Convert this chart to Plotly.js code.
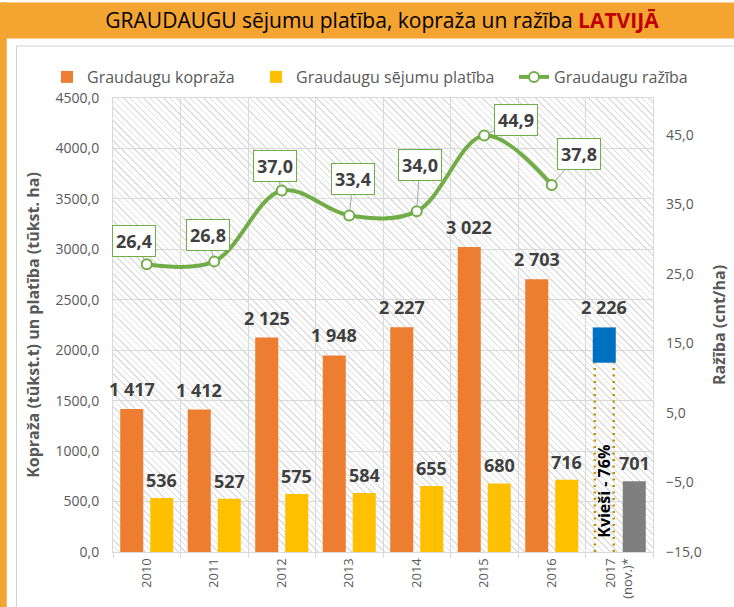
<!DOCTYPE html>
<html>
<head>
<meta charset="utf-8">
<script src="https://cdn.plot.ly/plotly-3.0.1.min.js"></script>
<style>
  html, body { margin: 0; padding: 0; background: #ffffff; }
  #wrap { position: relative; width: 734px; height: 607px; overflow: hidden; }
  #hatch {
    position: absolute; left: 113px; top: 98px; width: 540px; height: 454px;
    background: repeating-linear-gradient(45deg, #ffffff 0px, #ffffff 3.6px, #dedede 3.6px, #dedede 4.7px);
  }
  #chart { position: absolute; left: 0; top: 0; width: 734px; height: 607px; }
</style>
</head>
<body>
<div id="wrap">
  <div id="hatch"></div>
  <div id="chart"></div>
</div>
<script>
// ---- data ----
const years = ['2010', '2011', '2012', '2013', '2014', '2015', '2016', '2017<br>(nov.)*'];
const koprazaVals = [1417, 1412, 2125, 1948, 2227, 3022, 2703, 2226];   // tūkst. t
const platibaVals = [536, 527, 575, 584, 655, 680, 716, 701];           // tūkst. ha
const razibaYears = ['2010', '2011', '2012', '2013', '2014', '2015', '2016'];
const razibaVals = [26.4, 26.8, 37.0, 33.4, 34.0, 44.9, 37.8];         // cnt/ha
const kviesi2017 = 1876;        // wheat part of the 2017 bar (dotted)
const kviesiLabel = 'Kvieši - 76%';
const seriesNames = ['Graudaugu kopraža', 'Graudaugu sējumu platība', 'Graudaugu ražība'];

// ---- styles / layout helpers ----
const W = 734, H = 607;
const M = { l: 113, r: 81, t: 98, b: 55 };
const PW = W - M.l - M.r, PH = H - M.t - M.b;
const px = x => (x - M.l) / PW;          // pixel -> paper x
const py = y => (H - M.b - y) / PH;      // pixel -> paper y

const cOrange = '#ED7D31', cYellow = '#FFC000', cGreen = '#70AD47',
      cBlue = '#0070C0', cGray = '#7F7F7F', cText = '#404040', cAxis = '#595959';
const FONT = '"Open Sans", "Noto Sans", sans-serif';

const n = years.length;
const last = n - 1;
const barOff = 0.222;   // group offset of each bar from the category centre

const fmtThousands = v => String(v).replace(/\B(?=(\d{3})+(?!\d))/g, ' ');
const fmtDec = v => v.toFixed(1).replace('.', ',');

const koprazaColors = koprazaVals.map((v, i) => i === last ? 'rgba(0,0,0,0)' : cOrange);
const platibaColors = platibaVals.map((v, i) => i === last ? cGray : cYellow);

const traces = [
  {
    type: 'bar', name: seriesNames[0], x: years, y: koprazaVals, legend: 'legend',
    offsetgroup: 'a', marker: { color: koprazaColors }, hoverinfo: 'y'
  },
  {
    type: 'bar', name: seriesNames[1], x: years, y: platibaVals, legend: 'legend2',
    offsetgroup: 'b', marker: { color: platibaColors }, hoverinfo: 'y'
  },
  {
    type: 'bar', name: '2017', x: [years[last]], y: [koprazaVals[last] - kviesi2017],
    base: [kviesi2017], offsetgroup: 'a', marker: { color: cBlue },
    showlegend: false, hoverinfo: 'skip'
  },
  {
    type: 'scatter', mode: 'lines+markers', name: seriesNames[2], legend: 'legend3',
    x: razibaYears, y: razibaVals, yaxis: 'y2',
    line: { color: cGreen, width: 4, shape: 'spline', smoothing: 1 },
    marker: { symbol: 'circle', size: 10, color: '#ffffff', line: { color: cGreen, width: 2 } }
  }
];

// label annotations
const annotations = [];
koprazaVals.forEach((v, i) => {
  annotations.push({
    xref: 'x', yref: 'y', x: i - barOff, y: v, yanchor: 'bottom', yshift: 6,
    text: fmtThousands(v), showarrow: false,
    font: { family: FONT, size: 18, color: cText, weight: 'bold' }
  });
});
platibaVals.forEach((v, i) => {
  annotations.push({
    xref: 'x', yref: 'y', x: i + barOff, y: v, yanchor: 'bottom', yshift: 4,
    text: fmtThousands(v), showarrow: false,
    font: { family: FONT, size: 18, color: cText, weight: 'bold' }
  });
});
// line labels (boxes with leader lines), offsets in pixels
const boxOffsets = [[-13, -23], [-6, -26], [-7, -24], [4, -37], [3, -46], [32, -16], [27, -31]];
razibaVals.forEach((v, i) => {
  annotations.push({
    xref: 'x', yref: 'y2', x: i, y: v,
    text: fmtDec(v), showarrow: true, arrowhead: 0, arrowwidth: 1, arrowcolor: '#A6A6A6',
    standoff: 5, ax: boxOffsets[i][0], ay: boxOffsets[i][1],
    bordercolor: cGreen, borderwidth: 1, borderpad: 3, bgcolor: '#ffffff',
    font: { family: FONT, size: 18, color: cText, weight: 'bold' }
  });
});
// wheat share text inside the 2017 bar
annotations.push({
  xref: 'x', yref: 'y', x: last - barOff, y: 600, textangle: -90,
  text: kviesiLabel, showarrow: false,
  font: { family: FONT, size: 16, color: '#000000', weight: 'bold' }
});

// frame + dotted wheat outline
const dotLine = { color: '#BF9000', width: 2.5, dash: '2px,4.5px' };
const shapes = [
  { type: 'rect', xref: 'paper', yref: 'paper', x0: px(0), x1: px(W), y0: py(38.5), y1: py(2.5),
    fillcolor: '#F4A430', line: { width: 0 }, layer: 'below' },
  { type: 'rect', xref: 'paper', yref: 'paper', x0: px(0), x1: px(6.7), y0: py(H), y1: py(2.5),
    fillcolor: '#F4A430', line: { width: 0 }, layer: 'below' },
  { type: 'line', xref: 'paper', yref: 'paper', x0: px(16.5), x1: px(16.5), y0: py(46), y1: py(H),
    line: { color: '#D0D0D0', width: 1 }, layer: 'below' },
  { type: 'line', xref: 'paper', yref: 'paper', x0: px(16.5), x1: px(W), y0: py(46), y1: py(46),
    line: { color: '#D0D0D0', width: 1 }, layer: 'below' },
  { type: 'line', xref: 'x', yref: 'y', x0: last - barOff - 0.14, x1: last - barOff - 0.14,
    y0: 0, y1: kviesi2017, line: dotLine },
  { type: 'line', xref: 'x', yref: 'y', x0: last - barOff + 0.14, x1: last - barOff + 0.14,
    y0: 0, y1: kviesi2017, line: dotLine }
];

const legendBase = {
  orientation: 'h', xanchor: 'left', yanchor: 'top', y: py(60),
  font: { family: FONT, size: 16, color: cAxis }, itemwidth: 30,
  bgcolor: 'rgba(0,0,0,0)'
};

const layout = {
  width: W, height: H,
  margin: M,
  paper_bgcolor: 'rgba(0,0,0,0)', plot_bgcolor: 'rgba(0,0,0,0)',
  separators: ', ',
  font: { family: FONT, color: cAxis },
  title: {
    text: 'GRAUDAUGU sējumu platība, kopraža un ražība <b><span style="color:#C00000">LATVIJĀ</span></b>',
    font: { family: FONT, size: 21, color: '#000000' },
    xref: 'container', yref: 'container', x: 382 / W, y: 1 - 21 / H,
    xanchor: 'center', yanchor: 'middle'
  },
  barmode: 'group', bargap: 0.111, bargroupgap: 0.232,
  showlegend: true,
  legend: Object.assign({}, legendBase, { x: px(47) }),
  legend2: Object.assign({}, legendBase, { x: px(256) }),
  legend3: Object.assign({}, legendBase, { x: px(514) }),
  xaxis: {
    type: 'category', range: [-0.5, n - 0.5], tickson: 'boundaries',
    showgrid: true, gridcolor: '#D9D9D9', gridwidth: 1,
    ticks: 'outside', ticklen: 5, tickcolor: '#D9D9D9',
    showline: true, linecolor: '#D9D9D9', mirror: true,
    tickangle: -90, tickfont: { family: FONT, size: 13, color: cAxis },
    fixedrange: true
  },
  yaxis: {
    range: [0, 4500], dtick: 500, tick0: 0, tickformat: '.1f',
    showgrid: true, gridcolor: '#D9D9D9', zeroline: false,
    showline: true, linecolor: '#D9D9D9', mirror: true,
    ticks: '', ticklabelstandoff: 10,
    tickfont: { family: FONT, size: 14, color: cAxis },
    title: { text: 'Kopraža (tūkst.t) un platība (tūkst. ha)', standoff: 11,
             font: { family: FONT, size: 16, color: cAxis, weight: 'bold' } },
    fixedrange: true
  },
  yaxis2: {
    overlaying: 'y', side: 'right', range: [-15, 50.3], tick0: -15, dtick: 10,
    tickformat: '.1f', showgrid: false, zeroline: false, showline: false,
    ticks: '', ticklabelstandoff: 12,
    tickfont: { family: FONT, size: 14, color: cAxis },
    title: { text: 'Ražība (cnt/ha)', standoff: 13,
             font: { family: FONT, size: 16, color: cAxis, weight: 'bold' } },
    fixedrange: true
  },
  annotations: annotations,
  shapes: shapes
};

Plotly.newPlot('chart', traces, layout, { displayModeBar: false, staticPlot: true });
</script>
</body>
</html>
